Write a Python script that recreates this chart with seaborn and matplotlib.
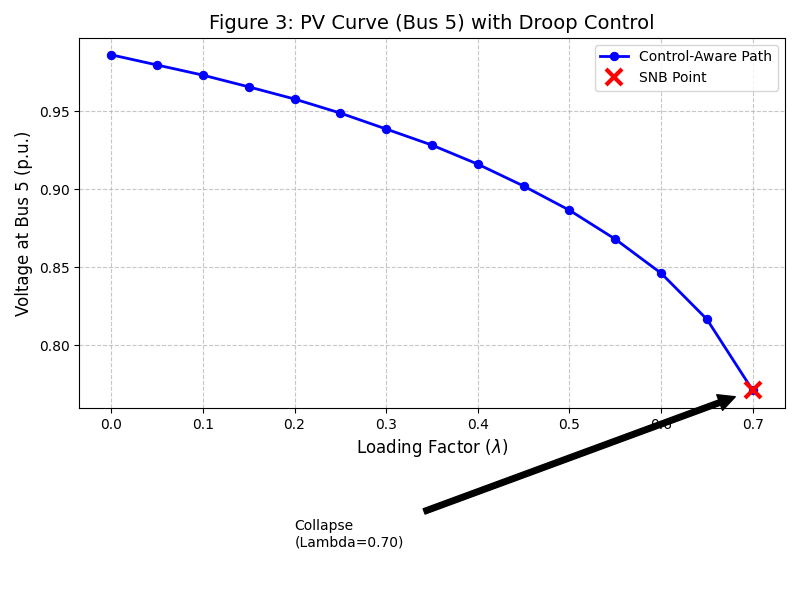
import numpy as np
import pandas as pd
import matplotlib
matplotlib.use('Agg')
import matplotlib.pyplot as plt
import seaborn as sns

# loading factor and bus 5 voltage
lam = [0.0, 0.05, 0.10, 0.15, 0.20, 0.25, 0.30, 0.35, 0.40, 0.45, 0.50, 0.55, 0.60, 0.65, 0.70]
volt = [0.986, 0.9795, 0.973, 0.9655, 0.9577, 0.9487, 0.9385, 0.9282, 0.916, 0.902,
        0.8865, 0.868, 0.8462, 0.8167, 0.7712]
snb_lam = 0.70
snb_volt = 0.7712

df = pd.DataFrame({'lam': lam, 'volt': volt})

fig, ax = plt.subplots(figsize=(8, 6), dpi=100)
sns.lineplot(data=df, x='lam', y='volt', ax=ax, color='blue', linewidth=2,
             marker='o', markersize=6, markeredgecolor='blue',
             label='Control-Aware Path')
ax.plot([snb_lam], [snb_volt], linestyle='none', marker='x', color='red',
        markersize=12, markeredgewidth=3, label='SNB Point')

ax.annotate('Collapse\n(Lambda=0.70)', xy=(snb_lam, snb_volt), xytext=(0.2, 0.6715),
            arrowprops=dict(facecolor='black', shrink=0.05), annotation_clip=False)

ax.set_title('Figure 3: PV Curve (Bus 5) with Droop Control', fontsize=14)
ax.set_xlabel(r'Loading Factor ($\lambda$)', fontsize=12)
ax.set_ylabel('Voltage at Bus 5 (p.u.)', fontsize=12)
ax.grid(True, linestyle='--', alpha=0.7)
ax.legend(loc='upper right')
ax.set_xlim(-0.035, 0.735)
ax.set_ylim(0.7599, 0.9969)
ax.set_xticks(np.arange(0, 0.71, 0.1))

fig.subplots_adjust(left=0.099, right=0.981, top=0.937, bottom=0.32)
fig.savefig('out.png', dpi=100)
